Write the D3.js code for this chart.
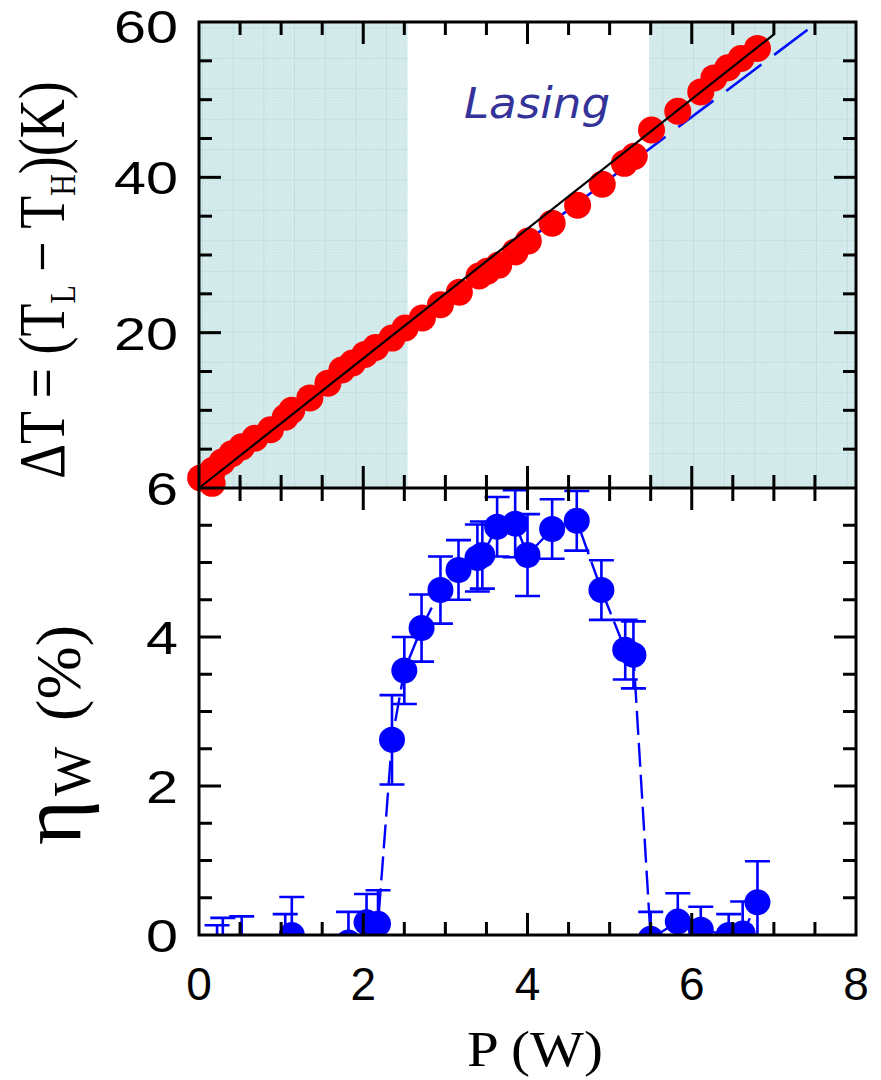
<!DOCTYPE html>
<html><head><meta charset="utf-8">
<script src="https://cdn.jsdelivr.net/npm/d3@7"></script>
<style>body{margin:0;background:#fff}</style>
</head><body>
<script>
// ---- data ----
const powerTop = [0.02,0.16,0.17,0.28,0.40,0.52,0.68,0.87,1.05,1.13,1.35,1.57,1.74,1.87,2.02,2.15,2.35,2.51,2.72,2.94,3.17,3.41,3.51,3.65,3.85,4.01,4.30,4.61,4.91,5.18,5.30,5.51,5.83,6.11,6.27,6.44,6.60,6.80];
const deltaT   = [1.3,0.6,2.3,3.35,4.4,5.3,6.4,7.5,9.1,10.0,11.6,13.5,15.2,16.1,17.2,18.1,19.3,20.6,21.9,23.6,25.2,27.3,27.9,28.7,30.4,31.8,34.1,36.4,39.1,41.8,42.7,46.1,48.5,51.0,52.8,54.1,55.3,56.6];
const blackLineP = [0, 7.0];
const blackLineT = [0, 58.4];
const blueFitP = [0, 7.41];
const blueFitT = [0, 59.0];
const lasingStart = 2.54, lasingEnd = 5.48;

const powerBot = [0.22,0.29,0.52,1.05,1.13,1.82,2.04,2.18,2.35,2.50,2.71,2.94,3.16,3.39,3.45,3.63,3.85,4.00,4.30,4.60,4.90,5.19,5.29,5.50,5.83,6.11,6.45,6.62,6.80];
const eta      = [-0.22,-0.20,-0.20,-0.20,0.00,-0.10,0.17,0.15,2.62,3.55,4.12,4.63,4.90,5.06,5.10,5.48,5.52,5.10,5.45,5.56,4.63,3.83,3.76,-0.05,0.18,0.07,0.00,0.02,0.44];
const etaErr   = [0.35,0.43,0.45,0.48,0.51,0.41,0.38,0.45,0.60,0.45,0.45,0.45,0.40,0.45,0.45,0.40,0.45,0.55,0.40,0.40,0.40,0.40,0.45,0.36,0.38,0.31,0.28,0.43,0.55];

const xTicks = [0,2,4,6,8];
const yTopTicks = [20,40,60];
const yBotTicks = [0,2,4,6];

// ---- layout ----
const W = 881, H = 1080;
const L = 199, R = 856, T = 22, M = 488, B = 935;
const svg = d3.select("body").append("svg").attr("width", W).attr("height", H);

const x = d3.scaleLinear().domain([0,8]).range([L,R]);
const yT = d3.scaleLinear().domain([0,60]).range([M,T]);
const yB = d3.scaleLinear().domain([0,6]).range([B,M]);

const defs = svg.append("defs");
const pat = defs.append("pattern").attr("id","grid").attr("patternUnits","userSpaceOnUse")
  .attr("x",202).attr("y",27.5).attr("width",30.7).attr("height",30.4);
pat.append("rect").attr("width",30.7).attr("height",30.4).attr("fill","#d3eaeb");
const fine = defs.append("pattern").attr("id","fine").attr("patternUnits","userSpaceOnUse")
  .attr("width",3).attr("height",3);
fine.append("rect").attr("width",3).attr("height",3).attr("fill","#d5ebec");
fine.append("rect").attr("width",1).attr("height",1).attr("fill","#c8e4e5");
pat.append("rect").attr("width",30.7).attr("height",30.4).attr("fill","url(#fine)");
pat.append("path").attr("d","M0,0V30.4M0,0H30.7").attr("stroke","#b4dbdc").attr("stroke-width",1.2).attr("fill","none");

defs.append("clipPath").attr("id","clipB").append("rect").attr("x",L-20).attr("y",M).attr("width",R-L+40).attr("height",B-M);

// shaded regions
svg.append("rect").attr("x",x(0)).attr("y",T).attr("width",x(lasingStart)-x(0)).attr("height",M-T).attr("fill","url(#grid)");
svg.append("rect").attr("x",x(lasingEnd)).attr("y",T).attr("width",x(8)-x(lasingEnd)).attr("height",M-T).attr("fill","url(#grid)");

// top panel lines & points
const lineT = d3.line().x(d=>x(d[0])).y(d=>yT(d[1]));
svg.append("path").datum(d3.zip(blueFitP, blueFitT)).attr("d", lineT)
  .attr("stroke","#0010ff").attr("stroke-width",2.6).attr("fill","none").attr("stroke-dasharray","44,16");
svg.append("g").selectAll("circle").data(d3.zip(powerTop, deltaT)).join("circle")
  .attr("cx",d=>x(d[0])).attr("cy",d=>yT(d[1])).attr("r",13.5).attr("fill","#ff0000");
svg.append("path").datum(d3.zip(blackLineP, blackLineT)).attr("d", lineT)
  .attr("stroke","#000").attr("stroke-width",2.2).attr("fill","none");

svg.append("text").attr("transform","translate(537,118) scale(1.05,1)").attr("text-anchor","middle")
  .attr("font-family","'Comic Sans MS','DejaVu Sans',sans-serif").attr("font-style","italic")
  .attr("font-size",43).attr("fill","#33339a").text("Lasing");

// bottom panel
const gB = svg.append("g").attr("clip-path","url(#clipB)");
const botData = d3.zip(powerBot, eta, etaErr);
const lineB = d3.line().x(d=>x(d[0])).y(d=>yB(d[1]));
gB.append("path").datum(botData).attr("d", lineB)
  .attr("stroke","#0000ff").attr("stroke-width",2.4).attr("fill","none").attr("stroke-dasharray","24,8");
const eb = gB.append("g").attr("stroke","#0000ff").attr("stroke-width",2.6).attr("fill","none");
eb.selectAll("path").data(botData).join("path")
  .attr("d", d => {
    const cx = x(d[0]), y1 = yB(d[1]+d[2]), y0 = yB(d[1]-d[2]);
    return `M${cx},${y0}V${y1}M${cx-12.5},${y1}H${cx+12.5}M${cx-12.5},${y0}H${cx+12.5}`;
  });
gB.append("g").selectAll("circle").data(botData).join("circle")
  .attr("cx",d=>x(d[0])).attr("cy",d=>yB(d[1])).attr("r",13).attr("fill","#0000ff");

// frame & ticks
const ax = svg.append("g").attr("stroke","#000").attr("stroke-width",3).attr("fill","none");
ax.append("rect").attr("x",L).attr("y",T).attr("width",R-L).attr("height",B-T);
ax.append("line").attr("x1",L).attr("x2",R).attr("y1",M).attr("y2",M);
const minorX = d3.range(0, 8.01, 0.5);
function xTickPaths(yEdge, dir){
  minorX.forEach(v=>{
    if (v===0 || v===8) return;
    const len = (v % 2 === 0) ? 22 : 13;
    ax.append("line").attr("x1",x(v)).attr("x2",x(v)).attr("y1",yEdge).attr("y2",yEdge+dir*len);
  });
}
xTickPaths(T, 1); xTickPaths(M, -1); xTickPaths(M, 1); xTickPaths(B, -1);
d3.range(5, 60, 5).forEach(v=>{
  const len = (v % 20 === 0) ? 22 : 13;
  ax.append("line").attr("x1",L).attr("x2",L+len).attr("y1",yT(v)).attr("y2",yT(v));
  ax.append("line").attr("x1",R).attr("x2",R-len).attr("y1",yT(v)).attr("y2",yT(v));
});
d3.range(0.5, 6, 0.5).forEach(v=>{
  const len = (Math.abs(v % 2) < 1e-9) ? 22 : 13;
  ax.append("line").attr("x1",L).attr("x2",L+len).attr("y1",yB(v)).attr("y2",yB(v));
  ax.append("line").attr("x1",R).attr("x2",R-len).attr("y1",yB(v)).attr("y2",yB(v));
});

// tick labels
const tickFont = "'Liberation Sans',Arial,sans-serif";
const lab = svg.append("g").attr("font-family",tickFont).attr("font-size",46).attr("fill","#000");
xTicks.forEach(v=>{
  lab.append("text").attr("x",x(v)).attr("y",1000).attr("text-anchor","middle").text(v);
});
yTopTicks.forEach(v=>{
  lab.append("text").attr("transform",`translate(178,${Math.max(yT(v)+17, 43)}) scale(1.25,1)`).attr("text-anchor","end").text(v);
});
yBotTicks.forEach(v=>{
  lab.append("text").attr("transform",`translate(178,${yB(v)+17}) scale(1.25,1)`).attr("text-anchor","end").text(v);
});

// axis titles
const serif = "'Liberation Serif','Times New Roman',serif";
svg.append("text").attr("transform","translate(535,1066) scale(1.12,1)").attr("text-anchor","middle")
  .attr("font-family",serif).attr("font-size",51).text("P (W)");

const t1 = svg.append("text").attr("transform","translate(64,280) rotate(-90) scale(1,1.2)").attr("text-anchor","middle")
  .attr("font-family",serif).attr("font-size",54);
t1.append("tspan").text("ΔT = (T");
t1.append("tspan").attr("font-size",30).attr("dy",9).text("L");
t1.append("tspan").attr("dy",-9).text(" − T");
t1.append("tspan").attr("font-size",30).attr("dy",9).text("H");
t1.append("tspan").attr("dy",-9).text(")(K)");

const t2 = svg.append("text").attr("transform","translate(80,845) rotate(-90)").attr("text-anchor","start")
  .attr("font-family",serif).attr("font-size",64);
t2.append("tspan").attr("font-size",86).text("η");
t2.append("tspan").attr("font-size",52).attr("dx",4).attr("dy",10).text("W");
t2.append("tspan").attr("dx",10).attr("dy",-10).text(" (%)");
</script>
</body></html>
